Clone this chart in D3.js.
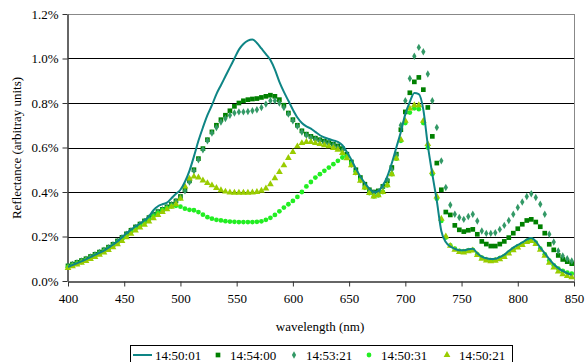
<!DOCTYPE html>
<html><head><meta charset="utf-8">
<script src="https://cdn.jsdelivr.net/npm/d3@7"></script>
<style>
body{margin:0;background:#fff;}
svg{display:block;}
</style></head>
<body><div id="chart"></div>
<script>
const wavelengths = d3.range(400, 849, 4);
const seriesNames = ["14:50:01","14:54:00","14:53:21","14:50:31","14:50:21"];
const xTicks = [400,450,500,550,600,650,700,750,800,850];
const yTicks = [0,0.2,0.4,0.6,0.8,1.0,1.2];

const s145001 = [0.063,0.072,0.080,0.088,0.097,0.107,0.117,0.127,0.137,0.150,0.163,0.178,0.196,0.214,0.230,0.245,0.258,0.272,0.290,0.318,
0.336,0.345,0.352,0.372,0.392,0.410,0.446,0.495,0.56,0.63,0.69,0.745,0.79,0.84,0.88,0.92,0.96,1.00,1.04,1.065,
1.08,1.085,1.07,1.045,1.02,0.993,0.95,0.895,0.85,0.81,0.77,0.735,0.71,0.695,0.685,0.67,0.655,0.645,0.638,0.632,
0.625,0.61,0.58,0.545,0.505,0.47,0.44,0.415,0.40,0.405,0.43,0.47,0.53,0.60,0.67,0.75,0.805,0.845,0.84,0.77,
0.61,0.48,0.36,0.225,0.175,0.155,0.145,0.138,0.138,0.143,0.145,0.125,0.11,0.102,0.099,0.100,0.108,0.118,0.135,0.15,
0.162,0.173,0.186,0.193,0.178,0.15,0.125,0.098,0.075,0.058,0.045,0.035,0.028];

const s145400 = [0.068,0.076,0.084,0.092,0.100,0.110,0.120,0.130,0.140,0.152,0.165,0.180,0.196,0.212,0.228,0.243,0.256,0.270,0.285,0.300,
0.312,0.322,0.333,0.345,0.36,0.38,0.41,0.45,0.50,0.55,0.595,0.635,0.67,0.70,0.725,0.745,0.765,0.785,0.80,0.81,
0.815,0.818,0.82,0.825,0.83,0.835,0.83,0.815,0.79,0.755,0.725,0.70,0.675,0.66,0.65,0.642,0.635,0.628,0.622,0.615,
0.607,0.595,0.57,0.535,0.50,0.465,0.435,0.41,0.40,0.405,0.425,0.45,0.51,0.57,0.68,0.76,0.846,0.895,0.915,0.86,
0.78,0.65,0.53,0.41,0.31,0.297,0.25,0.23,0.222,0.228,0.232,0.21,0.178,0.166,0.157,0.157,0.166,0.178,0.195,0.215,
0.235,0.255,0.272,0.277,0.265,0.244,0.215,0.165,0.14,0.115,0.097,0.087,0.078];

const s145321 = [0.066,0.074,0.082,0.090,0.098,0.108,0.118,0.128,0.138,0.150,0.163,0.178,0.194,0.210,0.226,0.241,0.254,0.268,0.283,0.298,
0.310,0.320,0.331,0.343,0.357,0.376,0.405,0.445,0.495,0.545,0.59,0.63,0.665,0.69,0.715,0.73,0.745,0.755,0.76,0.76,
0.762,0.765,0.77,0.78,0.795,0.81,0.81,0.80,0.78,0.75,0.72,0.695,0.67,0.655,0.645,0.637,0.63,0.623,0.617,0.61,
0.60,0.585,0.56,0.525,0.49,0.455,0.425,0.405,0.395,0.40,0.42,0.455,0.50,0.565,0.70,0.81,0.91,1.01,1.05,1.03,
0.93,0.81,0.69,0.54,0.42,0.342,0.30,0.285,0.277,0.29,0.30,0.27,0.225,0.214,0.214,0.217,0.232,0.25,0.272,0.30,
0.33,0.355,0.38,0.392,0.375,0.345,0.30,0.21,0.175,0.135,0.112,0.10,0.09];

const s145031 = [0.062,0.070,0.078,0.086,0.094,0.103,0.113,0.123,0.133,0.145,0.158,0.172,0.188,0.205,0.221,0.236,0.249,0.262,0.277,0.292,
0.305,0.318,0.328,0.336,0.338,0.334,0.325,0.32,0.318,0.31,0.298,0.287,0.28,0.275,0.272,0.269,0.267,0.266,0.265,0.265,
0.265,0.265,0.266,0.268,0.275,0.284,0.297,0.313,0.33,0.345,0.36,0.378,0.40,0.425,0.445,0.465,0.48,0.495,0.51,0.525,
0.54,0.555,0.56,0.53,0.49,0.455,0.42,0.395,0.38,0.385,0.40,0.43,0.48,0.55,0.63,0.71,0.757,0.776,0.772,0.71,
0.60,0.48,0.37,0.27,0.195,0.16,0.145,0.135,0.133,0.137,0.14,0.12,0.105,0.096,0.093,0.095,0.103,0.112,0.128,0.143,
0.155,0.167,0.18,0.186,0.172,0.145,0.12,0.092,0.07,0.055,0.045,0.038,0.033];

const s145021 = [0.058,0.066,0.074,0.082,0.090,0.099,0.108,0.118,0.128,0.139,0.151,0.165,0.18,0.196,0.212,0.227,0.24,0.253,0.267,0.282,
0.296,0.31,0.322,0.333,0.345,0.37,0.425,0.46,0.469,0.465,0.452,0.44,0.43,0.418,0.408,0.402,0.398,0.397,0.397,0.397,
0.397,0.398,0.40,0.406,0.416,0.435,0.462,0.49,0.52,0.553,0.58,0.605,0.62,0.625,0.625,0.62,0.615,0.61,0.605,0.598,
0.59,0.575,0.552,0.52,0.485,0.45,0.42,0.395,0.38,0.385,0.40,0.43,0.48,0.55,0.635,0.72,0.775,0.79,0.79,0.72,
0.615,0.49,0.38,0.28,0.2,0.158,0.14,0.13,0.128,0.133,0.137,0.117,0.1,0.092,0.089,0.091,0.098,0.108,0.123,0.138,
0.15,0.162,0.175,0.18,0.166,0.14,0.113,0.082,0.06,0.042,0.03,0.022,0.017];

const seriesValues = [s145001, s145400, s145321, s145031, s145021];
const colors = ["#0e8585","#008000","#339966","#22ee22","#99cc00"];
const symbols = [null, d3.symbolSquare, d3.symbolDiamond, d3.symbolCircle, d3.symbolTriangle];
const symSizes = [0, 22, 16, 18, 20];

// pick an installed serif font (Times-like) if available
function pickFont() {
  const cands = ["Liberation Serif", "Times New Roman", "Tinos", "DejaVu Serif", "Noto Serif", "FreeSerif", "Times"];
  const c = document.createElement("canvas").getContext("2d");
  const sample = "wavelength (nm) 0.8% 14:50:01 Reflectance";
  const widthOf = f => { c.font = "20px " + f; return c.measureText(sample).width; };
  const baseM = widthOf("monospace"), baseS = widthOf("sans-serif");
  for (const f of cands) {
    const wm = widthOf(`'${f}', monospace`), ws = widthOf(`'${f}', sans-serif`);
    if (wm !== baseM && ws !== baseS) return `'${f}', serif`;
  }
  return "serif";
}
const FONT = pickFont();

const W = 586, H = 362;
const m = {l:68, r:12, t:14, b:81};
const svg = d3.select("#chart").append("svg").attr("width", W).attr("height", H)
  .attr("font-family", FONT);

const x = d3.scaleLinear().domain([400,850]).range([m.l, W - m.r]);
const y = d3.scaleLinear().domain([0,1.2]).range([H - m.b, m.t]);

// gridlines
svg.append("g").selectAll("line").data(yTicks.slice(1)).join("line")
  .attr("x1", m.l).attr("x2", W - m.r)
  .attr("y1", d => Math.round(y(d)) + 0.5).attr("y2", d => Math.round(y(d)) + 0.5)
  .attr("stroke", d => d === 1.2 ? "#888" : "#000").attr("stroke-width", 1);
// right border
svg.append("line").attr("x1", W - m.r + 0.5).attr("x2", W - m.r + 0.5)
  .attr("y1", m.t).attr("y2", H - m.b).attr("stroke", "#888");

// axes
const xAxis = d3.axisBottom(x).tickValues(xTicks).tickSize(5).tickSizeOuter(0).tickFormat(d3.format("d"));
const gx = svg.append("g").attr("transform", `translate(0,${Math.round(y(0)) + 0.5})`).call(xAxis)
  .attr("font-family", FONT);
gx.select(".domain").attr("stroke", "#333").attr("stroke-width", 1.5);
gx.selectAll(".tick line").attr("stroke", "#333");
gx.selectAll("text").attr("font-size", 13).attr("fill", "#000").attr("dy", "1.05em")
  .attr("font-family", FONT);

const yAxis = d3.axisLeft(y).tickValues(yTicks).tickSize(5).tickSizeOuter(0).tickFormat(d => d.toFixed(1) + "%");
const gy = svg.append("g").attr("transform", `translate(${m.l - 0.5},0)`).call(yAxis)
  .attr("font-family", FONT);
gy.select(".domain").attr("stroke", "#333").attr("stroke-width", 1.5);
gy.selectAll(".tick line").attr("stroke", "#333");
gy.selectAll("text").attr("font-size", 13).attr("fill", "#000").attr("x", -9)
  .attr("font-family", FONT);

// markers
for (let s = 1; s < 5; s++) {
  const sym = d3.symbol().type(symbols[s]).size(symSizes[s]);
  svg.append("g").selectAll("path").data(wavelengths.map((w, i) => [w, seriesValues[s][i]])).join("path")
    .attr("d", sym)
    .attr("transform", d => `translate(${x(d[0])},${y(d[1])})`)
    .attr("fill", colors[s]);
}
// line series
const line = d3.line().x((d, i) => x(wavelengths[i])).y(d => y(d)).curve(d3.curveMonotoneX);
svg.append("path").datum(s145001).attr("d", line).attr("fill", "none")
  .attr("stroke", colors[0]).attr("stroke-width", 2);

// axis titles
svg.append("text").attr("x", 320).attr("y", 331).attr("text-anchor", "middle")
  .attr("font-size", 13).attr("font-family", FONT).text("wavelength (nm)");
svg.append("text").attr("transform", "translate(21,148) rotate(-90)").attr("text-anchor", "middle")
  .attr("font-size", 13).attr("font-family", FONT).text("Reflectance (arbitray units)");

// legend
const lg = svg.append("g");
lg.append("rect").attr("x", 130.5).attr("y", 345.5).attr("width", 382).attr("height", 30)
  .attr("fill", "#fff").attr("stroke", "#000");
const itemX = [133, 218, 294, 369, 447];
seriesNames.forEach((n, s) => {
  if (s === 0) {
    lg.append("line").attr("x1", itemX[0]).attr("x2", itemX[0] + 19).attr("y1", 355).attr("y2", 355)
      .attr("stroke", colors[0]).attr("stroke-width", 2);
    lg.append("text").attr("x", 155).attr("y", 359.5).attr("font-size", 13).attr("font-family", FONT).text(n);
  } else {
    lg.append("path").attr("d", d3.symbol().type(symbols[s]).size(symSizes[s])())
      .attr("transform", `translate(${itemX[s]},355)`).attr("fill", colors[s]);
    lg.append("text").attr("x", itemX[s] + 12).attr("y", 359.5).attr("font-size", 13).attr("font-family", FONT).text(n);
  }
});
</script></body></html>
